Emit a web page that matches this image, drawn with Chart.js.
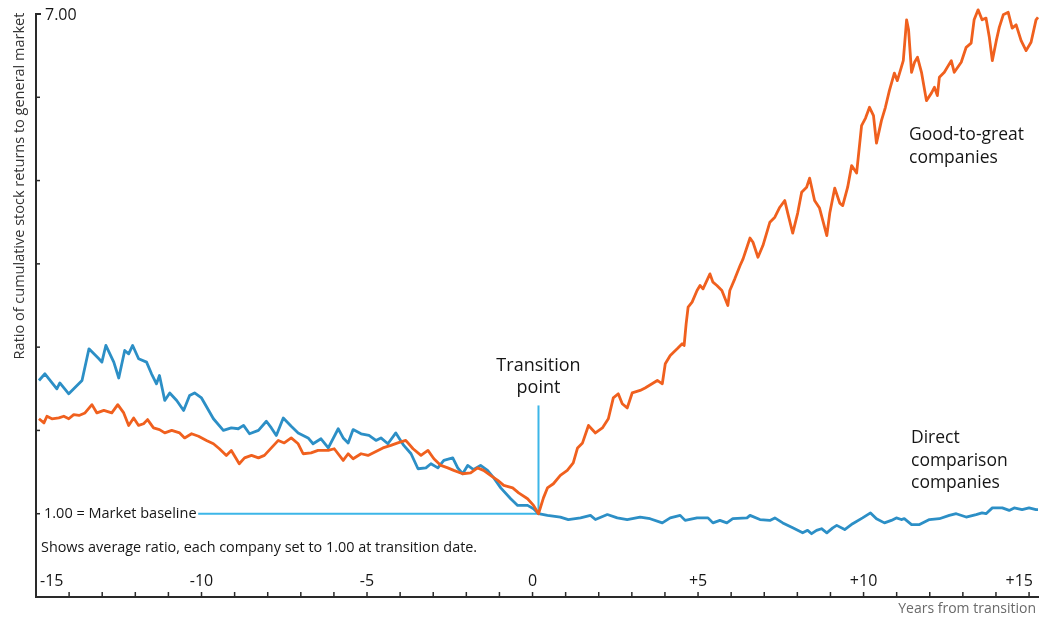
<!DOCTYPE html>
<html>
<head>
<meta charset="utf-8">
<script src="https://cdn.jsdelivr.net/npm/chart.js@4.4.0/dist/chart.umd.min.js"></script>
<style>
html, body { margin: 0; padding: 0; background: #fff; }
canvas { display: block; }
</style>
</head>
<body>
<canvas id="graphique" width="1039" height="619"></canvas>
<script>
// years from transition / ratio to market
var yearsGreat = [-14.91,-14.76,-14.67,-14.52,-14.31,-14.16,-14.01,-13.86,-13.70,-13.52,
  -13.31,-13.16,-12.95,-12.71,-12.53,-12.35,-12.20,-12.05,-11.90,-11.75,
  -11.63,-11.45,-11.27,-11.11,-10.90,-10.66,-10.51,-10.30,-10.09,-9.85,
  -9.64,-9.46,-9.25,-9.10,-8.95,-8.86,-8.70,-8.49,-8.28,-8.10,
  -7.89,-7.68,-7.50,-7.29,-7.08,-6.93,-6.69,-6.48,-6.17,-5.99,
  -5.72,-5.57,-5.42,-5.18,-4.97,-4.67,-4.52,-4.28,-4.07,-3.83,
  -3.61,-3.37,-3.16,-2.98,-2.77,-2.56,-2.38,-2.11,-1.87,-1.66,
  -1.48,-1.27,-1.05,-0.87,-0.60,-0.42,-0.15,0.03,0.18,0.33,
  0.45,0.63,0.84,1.05,1.23,1.36,1.51,1.69,1.90,2.11,
  2.29,2.44,2.59,2.71,2.86,3.01,3.25,3.40,3.61,3.77,
  3.92,4.01,4.16,4.37,4.52,4.58,4.64,4.70,4.82,4.97,
  5.06,5.15,5.36,5.45,5.57,5.72,5.90,5.96,6.11,6.27,
  6.36,6.57,6.66,6.81,6.96,7.17,7.32,7.47,7.62,7.71,
  7.86,8.01,8.13,8.28,8.37,8.52,8.67,8.77,8.89,8.98,
  9.13,9.28,9.37,9.52,9.64,9.79,9.94,10.06,10.18,10.30,
  10.39,10.54,10.66,10.78,10.93,11.02,11.14,11.20,11.30,11.36,
  11.45,11.54,11.63,11.75,11.90,12.05,12.14,12.23,12.29,12.44,
  12.65,12.74,12.95,13.10,13.25,13.34,13.46,13.58,13.70,13.80,
  13.89,14.01,14.10,14.22,14.37,14.49,14.61,14.76,14.91,15.06,
  15.21,15.27];
var valuesGreat = [2.14,2.09,2.17,2.14,2.15,2.17,2.14,2.19,2.18,2.21,
  2.31,2.21,2.24,2.21,2.31,2.21,2.06,2.15,2.06,2.08,
  2.13,2.03,2.01,1.97,2.00,1.97,1.91,1.96,1.93,1.88,
  1.84,1.78,1.70,1.76,1.66,1.60,1.67,1.70,1.67,1.70,
  1.79,1.88,1.85,1.91,1.84,1.72,1.73,1.76,1.76,1.78,
  1.64,1.72,1.66,1.72,1.70,1.76,1.79,1.82,1.85,1.88,
  1.78,1.70,1.76,1.66,1.58,1.55,1.52,1.48,1.49,1.55,
  1.52,1.46,1.40,1.34,1.31,1.25,1.18,1.10,1.00,1.19,
  1.31,1.36,1.46,1.52,1.61,1.79,1.85,2.06,1.97,2.03,
  2.14,2.39,2.44,2.32,2.27,2.45,2.48,2.51,2.56,2.60,
  2.56,2.80,2.90,2.98,3.04,3.02,3.28,3.48,3.54,3.68,
  3.74,3.70,3.88,3.78,3.74,3.68,3.50,3.68,3.82,3.98,
  4.06,4.31,4.26,4.08,4.22,4.50,4.56,4.68,4.76,4.61,
  4.37,4.61,4.86,4.92,5.03,4.76,4.67,4.52,4.34,4.61,
  4.91,4.73,4.70,4.92,5.18,5.09,5.66,5.75,5.88,5.78,
  5.45,5.72,5.88,6.08,6.29,6.20,6.36,6.44,6.93,6.81,
  6.30,6.42,6.48,6.30,5.96,6.05,6.12,6.02,6.24,6.30,
  6.44,6.30,6.42,6.60,6.65,6.93,7.05,6.93,6.95,6.72,
  6.44,6.68,6.84,6.99,7.02,6.83,6.87,6.68,6.56,6.66,
  6.93,6.96];

var yearsComp = [-14.91,-14.73,-14.37,-14.28,-14.01,-13.61,-13.40,-13.10,-13.01,-12.89,
  -12.65,-12.50,-12.32,-12.20,-12.08,-11.90,-11.66,-11.51,-11.36,-11.27,
  -11.11,-10.96,-10.75,-10.54,-10.36,-10.21,-10.00,-9.64,-9.34,-9.10,
  -8.89,-8.73,-8.55,-8.28,-8.04,-7.89,-7.74,-7.53,-7.29,-7.08,
  -6.78,-6.63,-6.39,-6.17,-5.87,-5.72,-5.57,-5.42,-5.18,-4.94,
  -4.73,-4.58,-4.37,-4.13,-3.89,-3.67,-3.46,-3.22,-3.07,-2.86,
  -2.68,-2.41,-2.26,-2.11,-1.96,-1.78,-1.57,-1.36,-1.17,-0.96,
  -0.66,-0.45,-0.15,0.03,0.18,0.45,0.84,1.08,1.45,1.75,
  1.90,2.26,2.56,2.86,3.25,3.55,3.92,4.16,4.46,4.61,
  4.97,5.30,5.45,5.66,5.87,6.05,6.48,6.57,6.87,7.17,
  7.32,7.56,7.86,8.16,8.31,8.43,8.58,8.73,8.89,9.07,
  9.19,9.43,9.67,9.97,10.21,10.39,10.63,10.84,10.99,11.14,
  11.23,11.45,11.69,11.99,12.29,12.59,12.80,13.10,13.40,13.58,
  13.70,13.89,14.19,14.40,14.55,14.79,15.00,15.21,15.27];
var valuesComp = [2.60,2.68,2.50,2.57,2.44,2.60,2.98,2.86,2.82,3.02,
  2.82,2.63,2.96,2.92,3.02,2.86,2.82,2.68,2.56,2.66,
  2.36,2.45,2.36,2.24,2.42,2.45,2.39,2.14,2.00,2.03,
  2.02,2.06,1.96,2.00,2.11,2.03,1.94,2.15,2.05,1.97,
  1.91,1.84,1.90,1.79,2.02,1.91,1.85,2.01,1.96,1.94,
  1.88,1.91,1.84,1.97,1.82,1.72,1.54,1.55,1.60,1.55,
  1.64,1.67,1.55,1.48,1.58,1.53,1.58,1.52,1.43,1.31,
  1.18,1.10,1.10,1.06,1.00,0.98,0.96,0.93,0.95,0.98,
  0.93,0.99,0.95,0.93,0.96,0.94,0.89,0.95,0.98,0.92,
  0.95,0.95,0.89,0.92,0.89,0.94,0.95,0.98,0.93,0.92,
  0.95,0.89,0.83,0.77,0.80,0.76,0.80,0.82,0.77,0.83,
  0.86,0.81,0.88,0.95,1.01,0.94,0.89,0.92,0.95,0.93,
  0.94,0.87,0.87,0.93,0.94,0.98,1.00,0.96,0.99,1.01,
  1.00,1.07,1.07,1.04,1.07,1.05,1.07,1.05,1.05];

var xTickValues = [-15, -10, -5, 0, 5, 10, 15];
var xTickLabels = ['-15', '-10', '-5', '0', '+5', '+10', '+15'];
var yTickValues = [1, 2, 3, 4, 5, 6, 7];
var transitionYear = 0.18;
var baselineStart = -10.1;
var transitionTop = 2.3;

var FONT = "'Open Sans', 'DejaVu Sans', sans-serif";
var ORANGE = '#f0601e';
var BLUE = '#2c8fc6';
var LIGHTBLUE = '#3cb6e8';
var INK = '#161616';

function toPoints(xs, ys) {
  return xs.map(function (x, i) { return { x: x, y: ys[i] }; });
}

var decor = {
  id: 'decor',
  afterDraw: function (chart) {
    var ctx = chart.ctx;
    var sx = chart.scales.x;
    var sy = chart.scales.y;
    var area = chart.chartArea;
    ctx.save();
    ctx.strokeStyle = '#2a2a2a';
    ctx.lineWidth = 2;
    // axes
    ctx.beginPath();
    ctx.moveTo(area.left + 5, area.top);
    ctx.lineTo(area.left, area.top);
    ctx.lineTo(area.left, area.bottom);
    ctx.lineTo(area.right, area.bottom);
    ctx.stroke();
    // y ticks (inward)
    ctx.lineWidth = 1.5;
    yTickValues.forEach(function (v) {
      var py = sy.getPixelForValue(v);
      ctx.beginPath();
      ctx.moveTo(area.left, py);
      ctx.lineTo(area.left + 4, py);
      ctx.stroke();
    });
    // x ticks every year (upward)
    for (var yr = -14; yr <= 15; yr++) {
      var px = sx.getPixelForValue(yr);
      ctx.beginPath();
      ctx.moveTo(px, area.bottom);
      ctx.lineTo(px, area.bottom - 5);
      ctx.stroke();
    }
    // x labels, inside the plot
    ctx.fillStyle = INK;
    ctx.font = '16px ' + FONT;
    ctx.textBaseline = 'middle';
    ctx.textAlign = 'center';
    xTickValues.forEach(function (v, i) {
      var px = sx.getPixelForValue(v);
      var w = ctx.measureText(xTickLabels[i]).width;
      px = Math.max(area.left + 4 + w / 2, Math.min(area.right - 6 - w / 2, px));
      ctx.fillText(xTickLabels[i], px, area.bottom - 16);
    });
    // y labels
    ctx.textAlign = 'left';
    ctx.font = '16px ' + FONT;
    ctx.fillText('7.00', area.left + 9, sy.getPixelForValue(7) + 1);
    ctx.font = '14.5px ' + FONT;
    ctx.fillText('1.00 = Market baseline', area.left + 8, sy.getPixelForValue(1));
    ctx.font = '14.4px ' + FONT;
    ctx.fillText('Shows average ratio, each company set to 1.00 at transition date.', area.left + 5, sy.getPixelForValue(1) + 34);
    // axis titles
    ctx.fillStyle = '#333';
    ctx.font = '14.5px ' + FONT;
    ctx.save();
    ctx.translate(20, 186);
    ctx.rotate(-Math.PI / 2);
    ctx.textAlign = 'center';
    ctx.fillText('Ratio of cumulative stock returns to general market', 0, 0);
    ctx.restore();
    ctx.fillStyle = '#6a6a6a';
    ctx.font = '14px ' + FONT;
    ctx.textAlign = 'right';
    ctx.fillText('Years from transition', area.right - 3, area.bottom + 12);
    // series labels
    ctx.fillStyle = INK;
    ctx.font = '17.5px ' + FONT;
    ctx.textAlign = 'left';
    ctx.fillText('Good-to-great', 909, 135);
    ctx.fillText('companies', 909, 158);
    ctx.fillText('Direct', 911, 438);
    ctx.fillText('comparison', 911, 461);
    ctx.fillText('companies', 911, 483);
    ctx.textAlign = 'center';
    ctx.font = '18px ' + FONT;
    var tx = sx.getPixelForValue(transitionYear);
    ctx.fillText('Transition', tx, 366);
    ctx.fillText('point', tx, 388);
    ctx.restore();
  }
};

var ctx = document.getElementById('graphique').getContext('2d');
var graphique = new Chart(ctx, {
  type: 'line',
  data: {
    datasets: [
      {
        label: 'Good-to-great companies',
        data: toPoints(yearsGreat, valuesGreat),
        borderColor: ORANGE,
        borderWidth: 2.8,
        pointRadius: 0,
        tension: 0,
        borderJoinStyle: 'round',
        clip: false
      },
      {
        label: 'Direct comparison companies',
        data: toPoints(yearsComp, valuesComp),
        borderColor: BLUE,
        borderWidth: 2.8,
        pointRadius: 0,
        tension: 0,
        borderJoinStyle: 'round',
        clip: false
      },
      {
        label: 'baseline',
        data: [{ x: baselineStart, y: 1 }, { x: transitionYear, y: 1 }],
        borderColor: LIGHTBLUE,
        borderWidth: 2,
        pointRadius: 0
      },
      {
        label: 'transition',
        data: [{ x: transitionYear, y: 1 }, { x: transitionYear, y: transitionTop }],
        borderColor: LIGHTBLUE,
        borderWidth: 2,
        pointRadius: 0
      }
    ]
  },
  options: {
    responsive: false,
    animation: false,
    devicePixelRatio: 1,
    layout: { padding: { left: 36, right: 0, top: 14, bottom: 22 } },
    plugins: {
      legend: { display: false },
      tooltip: { enabled: false },
      title: { display: false }
    },
    scales: {
      x: { type: 'linear', min: -15, max: 15.3, display: false },
      y: { type: 'linear', min: 0, max: 7, display: false }
    }
  },
  plugins: [decor]
});
</script>
</body>
</html>
